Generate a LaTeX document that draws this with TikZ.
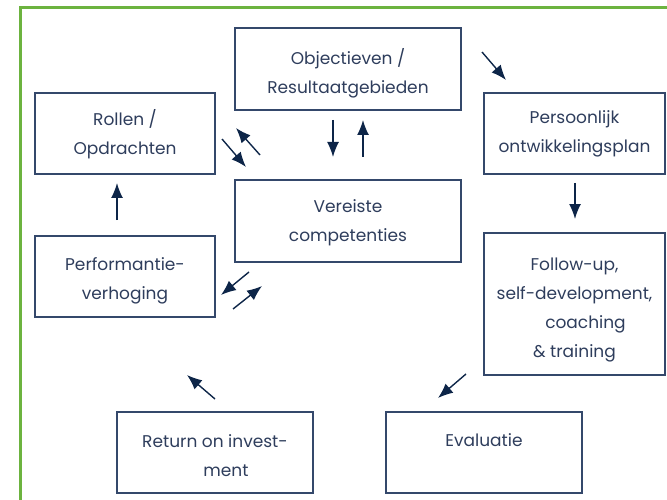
\documentclass[tikz,border=0pt]{standalone}
\usepackage{fontspec}
\setmainfont{Poppins}
\usetikzlibrary{arrows.meta}
\definecolor{framegreen}{HTML}{6CB33F}
\definecolor{boxline}{HTML}{34486B}
\definecolor{boxtext}{HTML}{2E3D5C}
\definecolor{arrowblue}{HTML}{0D2548}

\begin{document}
\begin{tikzpicture}[x=1pt,y=-1pt,
  stage/.style={draw=boxline, line width=1.3pt, rectangle, inner sep=0pt},
  caption/.style={inner sep=0pt, align=center, text=boxtext,
    font=\fontsize{17}{29}\selectfont},
  flow/.style={draw=arrowblue, line width=1.4pt,
    -{Latex[length=15pt,width=12pt]}}]
\useasboundingbox (0,0) rectangle (667,500);

% green outer frame, running off the right and bottom edges
\begin{scope}
  \clip (0,0) rectangle (667,500);
  \draw[framegreen, line width=3pt] (20,8) rectangle (720,560);
\end{scope}

% stages of the cycle
\node[stage, minimum width=226pt, minimum height=82pt] (obj) at (348,69) {};
\node[stage, minimum width=180pt, minimum height=81pt] (rol) at (125,133.5) {};
\node[stage, minimum width=181pt, minimum height=81pt] (pop) at (574.5,133.5) {};
\node[stage, minimum width=226pt, minimum height=82pt] (ver) at (348,221) {};
\node[stage, minimum width=180pt, minimum height=81pt] (perf) at (125,276.5) {};
\node[stage, minimum width=181pt, minimum height=142pt] (fol) at (574.5,304) {};
\node[stage, minimum width=196pt, minimum height=81pt] (eva) at (484,452.5) {};
\node[stage, minimum width=196pt, minimum height=81pt] (roi) at (215,452.5) {};

% their texts
\node[caption] (objt) at ([yshift=-4pt]obj.center) {Objectieven /\\Resultaatgebieden};
\node[caption] (rolt) at ([yshift=-1pt]rol.center) {Rollen /\\Opdrachten};
\node[caption] (popt) at (pop.center) {Persoonlijk\\ontwikkelingsplan};
\node[caption] (vert) at ([yshift=-1.5pt]ver.center) {Vereiste\\competenties};
\node[caption] (perft) at ([yshift=-4pt]perf.center) {Performantie-\\verhoging};
\node[caption] (folt) at ([yshift=-6pt]fol.center)
  {Follow-up,\\self-development,\\\hspace*{22pt}coaching\\\& training};
\node[caption] (evat) at ([yshift=-2pt]eva.center) {Evaluatie\\\mbox{}};
\node[caption] (roit) at ([yshift=-3pt]roi.center) {Return on invest-\\\hspace*{22pt}ment};

% arrow end points
\coordinate (a1s) at (482,52);  \coordinate (a1e) at (506,80);
\coordinate (a2s) at (333,120); \coordinate (a2e) at (333,157);
\coordinate (a3s) at (363,157); \coordinate (a3e) at (363,120);
\coordinate (a4s) at (222,139); \coordinate (a4e) at (246,167);
\coordinate (a5s) at (260,155); \coordinate (a5e) at (236,128);
\coordinate (a6s) at (249,272); \coordinate (a6e) at (221,295);
\coordinate (a7s) at (233,309); \coordinate (a7e) at (262,286);
\coordinate (a8s) at (117,220); \coordinate (a8e) at (117,183);
\coordinate (a9s) at (575,183); \coordinate (a9e) at (575,219);
\coordinate (a10s) at (466,374); \coordinate (a10e) at (438,398);
\coordinate (a11s) at (215,399); \coordinate (a11e) at (187,375);

\foreach \k in {1,...,11}
  \draw[flow] (a\k s) -- (a\k e);
\end{tikzpicture}
\end{document}
